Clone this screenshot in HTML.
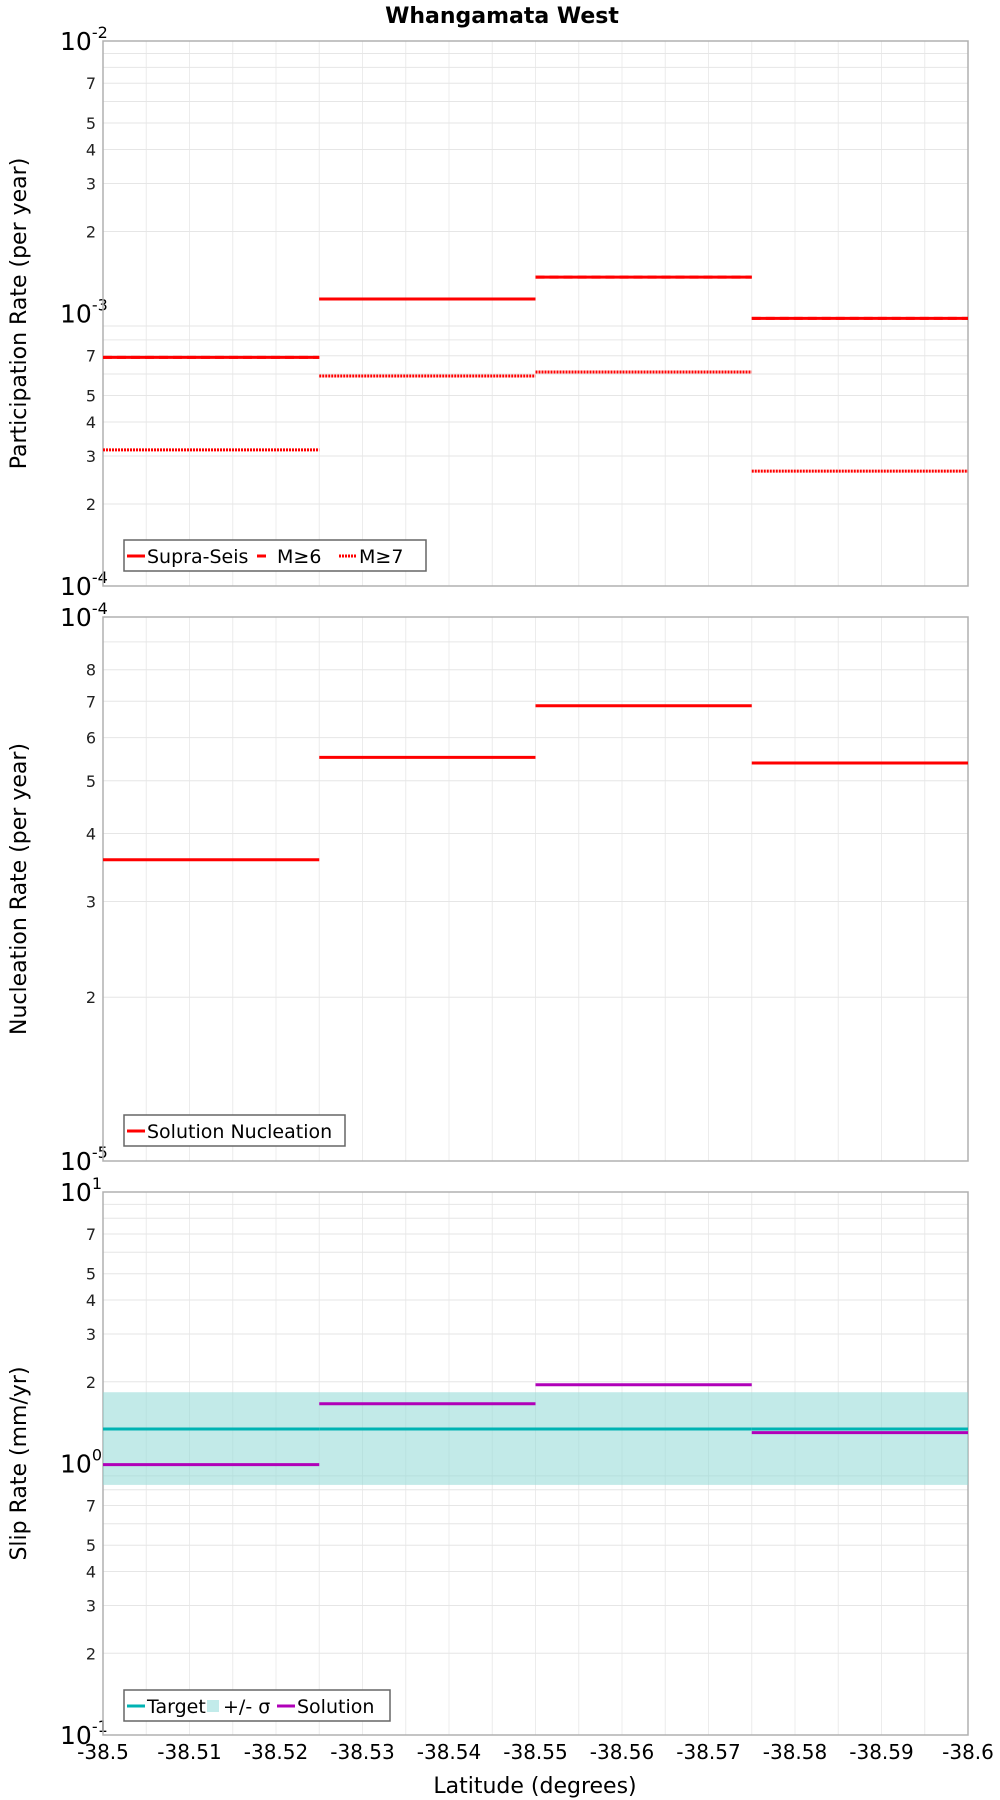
<!DOCTYPE html>
<html><head><meta charset="utf-8"><style>
html,body{margin:0;padding:0;background:#fff}
svg{display:block;font-family:"DejaVu Sans","Liberation Sans",sans-serif}
</style></head><body>
<svg id="chart" width="1000" height="1800" viewBox="0 0 1000 1800" xmlns="http://www.w3.org/2000/svg">
<text x="502" y="23" text-anchor="middle" font-size="22" font-weight="bold">Whangamata West</text>
</svg>
<script>
const segStarts = [-38.5, -38.525, -38.55, -38.575];
const segEnds = [-38.525, -38.55, -38.575, -38.6];
const supraSeis = [6.9e-4, 1.13e-3, 1.36e-3, 9.6e-4];
const m6 = [6.9e-4, 1.13e-3, 1.36e-3, 9.6e-4];
const m7 = [3.16e-4, 5.9e-4, 6.1e-4, 2.64e-4];
const nucleation = [3.58e-5, 5.52e-5, 6.87e-5, 5.39e-5];
const targetSlip = [1.34, 1.34, 1.34, 1.34];
const sigmaHigh = [1.83, 1.83, 1.83, 1.83];
const sigmaLow = [0.834, 0.834, 0.834, 0.834];
const solutionSlip = [0.99, 1.66, 1.95, 1.30];
const xTicks = [-38.5,-38.51,-38.52,-38.53,-38.54,-38.55,-38.56,-38.57,-38.58,-38.59,-38.6];
const xTickLabels = ["-38.5","-38.51","-38.52","-38.53","-38.54","-38.55","-38.56","-38.57","-38.58","-38.59","-38.6"];

const NS="http://www.w3.org/2000/svg";
const svg=document.getElementById('chart');
const L=103,R=968;
function mk(tag,attrs,parent){const e=document.createElementNS(NS,tag);for(const k in attrs)e.setAttribute(k,attrs[k]);(parent||svg).appendChild(e);return e;}
function xs(v){return L+(v-(-38.5))/(-38.6-(-38.5))*(R-L);}

function panel(name,top,bot,minExp,maxExp,ytitle,minorLabels){
  const g=mk('g',{});
  
  
  const ys=v=>bot-(Math.log10(v)-minExp)/(maxExp-minExp)*(bot-top);
  // grid
  for(let i=1;i<20;i++){const x=L+i*(R-L)/20;const gl=mk('line',{x1:x,x2:x,y1:top,y2:bot,stroke:'#ececec','stroke-width':1},g);}
  for(let e=minExp;e<maxExp;e++){for(let m=1;m<=9;m++){const v=m*Math.pow(10,e);const y=ys(v);if(m>1){const gl=mk('line',{x1:L,x2:R,y1:y,y2:y,stroke:'#e6e6e6','stroke-width':1},g);}
    if(m>1&&minorLabels.includes(m)){const t=mk('text',{x:96,y:y+6,'text-anchor':'end','font-size':16,fill:'#222'},g);t.textContent=m;}}}
  for(let e=minExp;e<=maxExp;e++){const y=ys(Math.pow(10,e));const t=mk('text',{x:60,y:y+9,'font-size':25,fill:'#000'},g);
    t.textContent='10';const s=mk('tspan',{dy:-12,'font-size':16},t);s.textContent=String(e);}
  const fr=mk('rect',{x:L,y:top,width:R-L,height:bot-top,fill:'none',stroke:'#b0b0b0','stroke-width':1.5},g);
  
  const yt=mk('text',{x:0,y:0,'font-size':22,'text-anchor':'middle',transform:`translate(26,${(top+bot)/2}) rotate(-90)`},g);
  yt.textContent=ytitle;
  return {g,ys};
}
function segs(p,vals,color,dash,w,nm){
  for(let i=0;i<vals.length;i++){const y=p.ys(vals[i]);const a={x1:xs(segStarts[i]),x2:xs(segEnds[i]),y1:y,y2:y,stroke:color,'stroke-width':w};if(dash)a['stroke-dasharray']=dash;const l=mk('line',a,p.g);
    
    }
}
function legend(g,x,y,w,items){
  const lg=mk('g',{},g);
  mk('rect',{x:x,y:y,width:w,height:31,fill:'#fff',stroke:'#666','stroke-width':1.5},lg);
  let cx=x+3;
  for(const it of items){
    if(it.box){mk('rect',{x:cx,y:y+10,width:12,height:12,fill:it.color},lg);cx+=16;}
    else{const a={x1:cx,x2:cx+18,y1:y+16,y2:y+16,stroke:it.color,'stroke-width':3};if(it.dash)a['stroke-dasharray']=it.dash;mk('line',a,lg);cx+=20;}
    const t=mk('text',{x:cx,y:y+23,'font-size':19},lg);t.textContent=it.label;
    cx+=it.w;
  }
}

// Panel 1
const p1=panel('participation',41,586,-4,-2,'Participation Rate (per year)',[2,3,4,5,7]);
segs(p1,supraSeis,'#ff0000',null,3,'supra-seis');
segs(p1,m6,'#ff0000','9,5',3,'m6');
segs(p1,m7,'#ff0000','2,1',3,'m7');
legend(p1.g,124,540,302,[{color:'#f00',label:'Supra-Seis',w:110},{color:'#f00',dash:'9,9',label:'M≥6',w:62},{color:'#f00',dash:'2,1',label:'M≥7',w:50}]);

// Panel 2
const p2=panel('nucleation',617,1161,-5,-4,'Nucleation Rate (per year)',[2,3,4,5,6,7,8]);
segs(p2,nucleation,'#ff0000',null,3,'nucleation');
legend(p2.g,124,1115,221,[{color:'#f00',label:'Solution Nucleation',w:190}]);

// Panel 3
const p3=panel('slip-rate',1192,1735,-1,1,'Slip Rate (mm/yr)',[2,3,4,5,7]);
for(let i=0;i<sigmaHigh.length;i++){const y1=p3.ys(sigmaHigh[i]),y2=p3.ys(sigmaLow[i]);const r=mk('rect',{x:xs(segStarts[i]),y:y1,width:xs(segEnds[i])-xs(segStarts[i]),height:y2-y1,fill:'#8fd9d6','fill-opacity':0.55},p3.g);
  
  }
segs(p3,targetSlip,'#00b3b3',null,3,'target');
segs(p3,solutionSlip,'#b000b8',null,3,'solution');
legend(p3.g,124,1690,266,[{color:'#00b3b3',label:'Target',w:60},{color:'#c2ebea',box:true,label:'+/- σ',w:54},{color:'#b000b8',label:'Solution',w:90}]);

// x axis
xTicks.forEach((v,i)=>{const t=mk('text',{x:xs(v),y:1759,'text-anchor':'middle','font-size':20});t.textContent=xTickLabels[i];
  
  });
const xt=mk('text',{x:535,y:1793,'text-anchor':'middle','font-size':22});xt.textContent='Latitude (degrees)';


</script>
</body></html>
